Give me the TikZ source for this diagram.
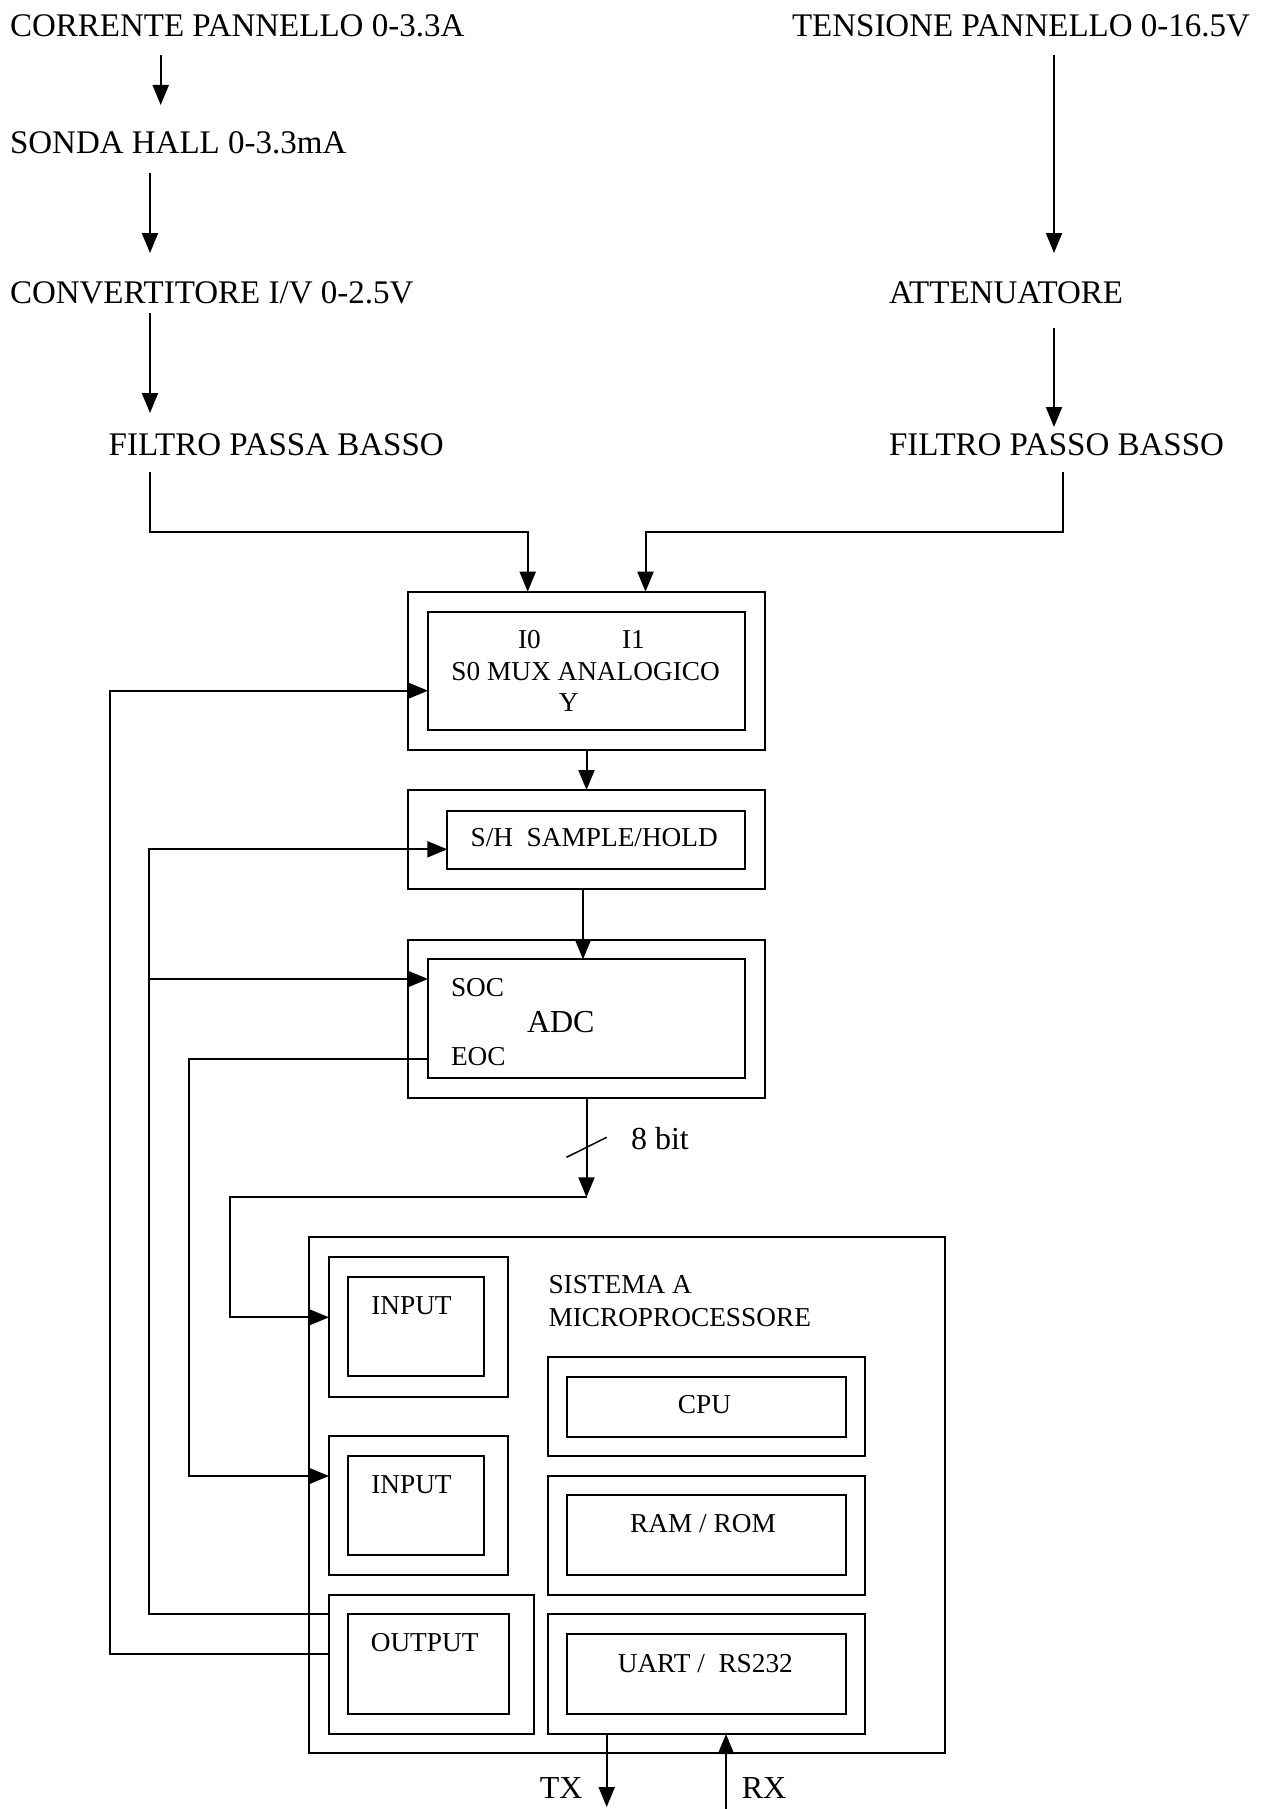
\documentclass[tikz,border=0pt]{standalone}
\usepackage{fontspec}
\setmainfont{Liberation Serif}
\usetikzlibrary{arrows.meta}
\begin{document}
\begin{tikzpicture}[x=1pt,y=-1pt,
  every path/.style={line width=2pt},
  box/.style={draw,line width=2pt,inner sep=0pt,outer sep=0pt,rectangle},
  big/.style={inner sep=0pt,font=\fontsize{33}{40}\selectfont},
  sml/.style={inner sep=0pt,font=\fontsize{27.3}{33}\selectfont},
  mid/.style={inner sep=0pt,font=\fontsize{32}{38}\selectfont},
  arr/.style={-{Triangle[length=20pt,width=16pt]}}]
\fill[white] (0,0) rectangle (1262,1809);
\useasboundingbox (0,0) rectangle (1262,1809);

% top text chain
\node[big,anchor=base west] (corr) at (9,36.7) {CORRENTE PANNELLO 0-3.3A};
\node[big,anchor=base west] (sonda) at (9,153.3) {SONDA HALL 0-3.3mA};
\node[big,anchor=base west] (conv) at (9,303.3) {CONVERTITORE I/V 0-2.5V};
\node[big,anchor=base west] (fpa) at (107.7,455) {FILTRO PASSA BASSO};
\node[big,anchor=base west] (tens) at (791,36.7) {TENSIONE PANNELLO 0-16.5V};
\node[big,anchor=base west] (att) at (888,303.3) {ATTENUATORE};
\node[big,anchor=base west] (fpb) at (888,455) {FILTRO PASSO BASSO};

% boxes
\node[box,minimum width=357,minimum height=158.3] (muxO) at (586.5,670.85) {};
\node[box,minimum width=317,minimum height=118.3] (muxI) at (586.5,670.85) {};
\node[box,minimum width=357,minimum height=99.3] (shO) at (586.5,839.65) {};
\node[box,minimum width=297.7,minimum height=58.6] (shI) at (596.15,840) {};
\node[box,minimum width=357,minimum height=158.3] (adcO) at (586.5,1019.15) {};
\node[box,minimum width=317,minimum height=119] (adcI) at (586.5,1018.8) {};
\node[box,minimum width=635.5,minimum height=516] (micro) at (626.75,1495.3) {};
\node[box,minimum width=179,minimum height=139.4] (in1O) at (418.5,1327) {};
\node[box,minimum width=135.9,minimum height=98.7] (in1I) at (416.25,1326.65) {};
\node[box,minimum width=317.5,minimum height=99.3] (cpuO) at (706.25,1406.35) {};
\node[box,minimum width=278.5,minimum height=60] (cpuI) at (706.25,1406.7) {};
\node[box,minimum width=179,minimum height=139] (in2O) at (418.5,1505.5) {};
\node[box,minimum width=135.9,minimum height=99] (in2I) at (416.25,1505.5) {};
\node[box,minimum width=317.5,minimum height=119] (ramO) at (706.25,1535.5) {};
\node[box,minimum width=278.5,minimum height=79.7] (ramI) at (706.25,1535.15) {};
\node[box,minimum width=204.5,minimum height=139] (outO) at (431.25,1664.5) {};
\node[box,minimum width=160.8,minimum height=100] (outI) at (428.6,1664.3) {};
\node[box,minimum width=317.5,minimum height=119.7] (uartO) at (706.25,1674.15) {};
\node[box,minimum width=278.5,minimum height=80] (uartI) at (706.25,1674.3) {};

% box labels
\node[sml,anchor=base] (i0lbl) at (529.5,648.3) {I0};
\node[sml,anchor=base] (i1lbl) at (633.5,648.3) {I1};
\node[sml,anchor=base west] (muxlbl) at (450.4,680) {S0 MUX ANALOGICO};
\node[sml,anchor=base] (ylbl) at (568.75,711.7) {Y};
\node[sml,anchor=base west] (shlbl) at (469.6,846.7) {S/H\ \ SAMPLE/HOLD};
\node[sml,anchor=base west] (soc) at (450,996) {SOC};
\node[mid,anchor=base west] (adclbl) at (526,1032.7) {ADC};
\node[sml,anchor=base west] (eoc) at (450,1065) {EOC};
\node[mid,anchor=base west] (bitlbl) at (630,1149.3) {8 bit};
\node[sml,anchor=base west] (sis1) at (547.5,1293.3) {SISTEMA A};
\node[sml,anchor=base west] (sis2) at (547.5,1326) {MICROPROCESSORE};
\node[sml,anchor=base west] (in1lbl) at (370.3,1314) {INPUT};
\node[sml,anchor=base] (cpulbl) at (704.5,1413.3) {CPU};
\node[sml,anchor=base west] (in2lbl) at (370.3,1493.3) {INPUT};
\node[sml,anchor=base] (ramlbl) at (703,1532.7) {RAM / ROM};
\node[sml,anchor=base west] (outlbl) at (369.8,1651.7) {OUTPUT};
\node[sml,anchor=base west] (uartlbl) at (616.8,1672.7) {UART /\ \ RS232};
\node[mid,anchor=base west] (tx) at (538.8,1798.3) {TX};
\node[mid,anchor=base west] (rx) at (740.8,1798.3) {RX};

% coordinates
\coordinate (a1s) at (160.7,55);  \coordinate (a1e) at (160.7,105);
\coordinate (a2s) at (150,173);   \coordinate (a2e) at (150,253);
\coordinate (a3s) at (150,313);   \coordinate (a3e) at (150,413);
\coordinate (a4s) at (1054,55);   \coordinate (a4e) at (1054,253);
\coordinate (a5s) at (1054,328);  \coordinate (a5e) at (1054,427);
\coordinate (fpaout) at (150,472);
\coordinate (fpbout) at (1063,472);
\coordinate (i0x) at (527.7,531.7);
\coordinate (i1x) at (645.5,531.7);
\coordinate (dbus) at (586.5,1197.3);
\coordinate (dleft) at (229.5,1197.3);
\coordinate (in1y) at (0,1317.3);
\coordinate (s1) at (566.5,1157.3); \coordinate (s2) at (606.7,1137.3);
\coordinate (c1) at (149,1614.3);
\coordinate (shy) at (0,849.3);
\coordinate (socy) at (149,979);
\coordinate (c2) at (109.8,1654);
\coordinate (muxy) at (0,690.7);
\coordinate (eocy) at (0,1059);
\coordinate (c3) at (189.3,1476);
\coordinate (txe) at (606.7,1807);
\coordinate (rxs) at (726,1809);

% connectors
\draw[arr] (a1s) -- (a1e);
\draw[arr] (a2s) -- (a2e);
\draw[arr] (a3s) -- (a3e);
\draw[arr] (a4s) -- (a4e);
\draw[arr] (a5s) -- (a5e);
\draw[arr] (fpaout) |- (i0x) -- (i0x |- muxO.north);
\draw[arr] (fpbout) |- (i1x) -- (i1x |- muxO.north);
\draw[arr] (muxO.south) -- (shO.north);
\draw[arr] ([xshift=-3.5pt]shO.south) -- ([xshift=-3.5pt]adcI.north);
\draw[arr] (adcO.south) -- (dbus);
\draw[line width=1.5pt] (s1) -- (s2);
\draw[arr] (dbus) -- (dleft) |- (in1O.west |- in1y);
\draw[arr] (outO.west |- c1) -- (c1) |- (shI.west |- shy);
\draw[arr] (socy) -- (adcI.west |- socy);
\draw[arr] (outO.west |- c2) -- (c2) |- (muxI.west |- muxy);
\draw[arr] (adcI.west |- eocy) -| (c3) -- (in2O.west |- c3);
\draw[arr] (uartO.south -| txe) -- (txe);
\draw[arr] (rxs) -- (uartO.south -| rxs);
\end{tikzpicture}
\end{document}
